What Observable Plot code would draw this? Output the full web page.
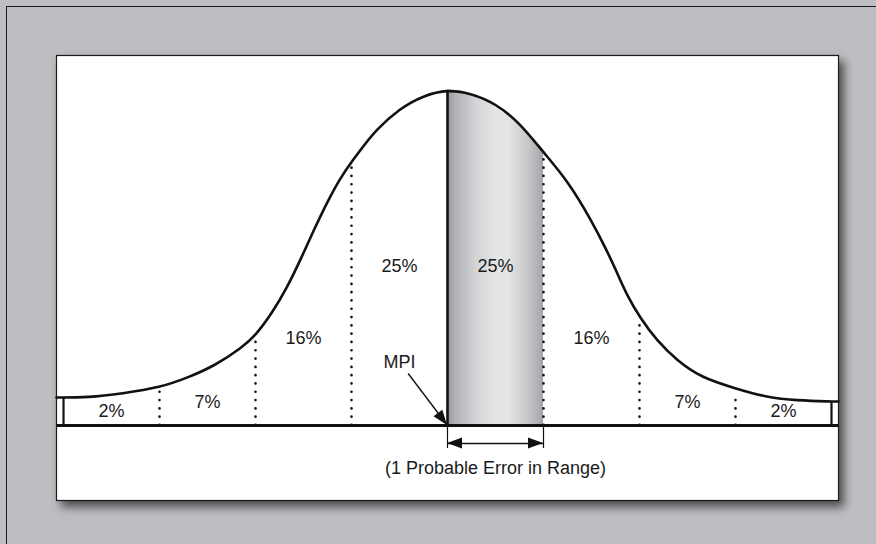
<!DOCTYPE html>
<html><head><meta charset="utf-8">
<script src="https://cdn.jsdelivr.net/npm/d3@7"></script>
<script src="https://cdn.jsdelivr.net/npm/@observablehq/plot@0.6"></script>
<style>
html,body{margin:0;padding:0;background:#bdbec2;width:876px;height:544px;overflow:hidden}
#edge{position:absolute;left:6px;top:6px;width:880px;height:548px;border-left:1.5px solid #1a1a1a;border-top:1.5px solid #1a1a1a}
#chart{position:absolute;left:0;top:0}
#chart svg [aria-label="frame"]{filter:drop-shadow(5px 6px 5px rgba(0,0,0,0.6))}
</style>
</head><body>
<div id="edge"></div>
<div id="chart"></div>
<script>
// Curve: x in probable errors (PE) from the MPI, height above the baseline
const curveX = [-4.073, -3.74, -3.39, -2.99, -2.70, -2.42, -2.14, -2.0, -1.83, -1.67, -1.53, -1.39, -1.25, -1.12, -0.99, -0.87, -0.75, -0.5, -0.25, 0,
                0.25, 0.5, 0.75, 1.0, 1.25, 1.5, 1.66, 1.77, 1.87, 2.01, 2.18, 2.39, 2.64, 3.0, 3.33, 3.64, 3.99, 4.073];
const curveH = [28, 28, 32, 38, 48, 60, 78, 90, 112, 138, 166, 196, 224, 247, 265, 280, 295, 317, 330, 336,
                332, 322, 303, 273, 245, 205, 175, 152, 130, 107, 85, 65, 48, 37, 28, 25, 24, 24];

// Zone dividers (dotted) and their heights
const dividerX = [-3, -2, -1, 1, 2, 3];
const dividerH = [35, 86, 262, 270, 103, 33];

// End boxes at ±4 PE
const endX = [-4, 4];
const endH = [28, 24];

// Zone percentage labels
const labelText = ["2%", "7%", "16%", "25%", "25%", "16%", "7%", "2%"];
const labelX = [-3.5, -2.5, -1.5, -0.5, 0.5, 1.5, 2.5, 3.5];
const labelH = [14, 23, 87, 159, 159, 87, 23, 14];

// Annotations
const mpiText = "MPI";
const mpiLabel = {x: -0.5, h: 63.5};
const mpiArrow = {x1: -0.41, h1: 52, x2: 0, h2: 0};
const mpiLineTop = 334;
const rangeText = "(1 Probable Error in Range)";
const rangeLabel = {x: 0.5, h: -43};
const rangeArrowH = -18;
const rangeTickH = -23;
const shadedFrom = 0, shadedTo = 1;

const curve = curveX.map((x, i) => ({x, h: curveH[i]}));
const shaded = curve.filter(d => d.x >= shadedFrom && d.x <= shadedTo);
const dividers = dividerX.map((x, i) => ({x, h: dividerH[i]}));
const ends = endX.map((x, i) => ({x, h: endH[i]}));
const labels = labelText.map((t, i) => ({t, x: labelX[i], h: labelH[i]}));
const arrows = [
  {x1: mpiArrow.x1, h1: mpiArrow.h1, x2: mpiArrow.x2, h2: mpiArrow.h2, len: 15, w: 5.5},
  {x1: 0.5, h1: rangeArrowH, x2: shadedFrom, h2: rangeArrowH, len: 15, w: 5.5},
  {x1: 0.5, h1: rangeArrowH, x2: shadedTo, h2: rangeArrowH, len: 15, w: 5.5}
];

const NS = "http://www.w3.org/2000/svg";
function extras(index, scales) {
  const g = document.createElementNS(NS, "g");
  const defs = document.createElementNS(NS, "defs");
  const grad = document.createElementNS(NS, "linearGradient");
  grad.setAttribute("id", "peGrad");
  grad.setAttribute("x1", "0"); grad.setAttribute("x2", "1");
  grad.setAttribute("y1", "0"); grad.setAttribute("y2", "0");
  [[0, "#96979a"], [0.08, "#afb0b3"], [0.3, "#d3d4d6"], [0.52, "#e4e5e7"], [0.64, "#e3e4e6"], [0.85, "#c5c6c8"], [1, "#a4a5a8"]].forEach(([o, c]) => {
    const s = document.createElementNS(NS, "stop");
    s.setAttribute("offset", o); s.setAttribute("stop-color", c);
    grad.appendChild(s);
  });
  defs.appendChild(grad);
  g.appendChild(defs);
  for (const a of arrows) {
    const X1 = scales.x(a.x1), Y1 = scales.y(a.h1), X2 = scales.x(a.x2), Y2 = scales.y(a.h2);
    const ang = Math.atan2(Y2 - Y1, X2 - X1);
    const cx = Math.cos(ang), cy = Math.sin(ang);
    const bx = X2 - cx * a.len, by = Y2 - cy * a.len;
    const p = document.createElementNS(NS, "path");
    p.setAttribute("d", `M${X2},${Y2}L${bx - cy * a.w},${by + cx * a.w}L${bx + cy * a.w},${by - cx * a.w}Z`);
    p.setAttribute("fill", "#111");
    g.appendChild(p);
  }
  return g;
}

const font = "Liberation Sans, Arial, Helvetica, sans-serif";
const plot = Plot.plot({
  width: 876,
  height: 544,
  marginLeft: 56,
  marginRight: 38,
  marginTop: 55,
  marginBottom: 44,
  style: {background: "transparent", overflow: "visible"},
  x: {domain: [-4.073, 4.073], axis: null},
  y: {domain: [-75, 370], axis: null},
  marks: [
    Plot.frame({fill: "white", stroke: "#1a1a1a", strokeWidth: 1.2}),
    extras,
    Plot.areaY(shaded, {x: "x", y: "h", fill: "url(#peGrad)", curve: "basis"}),
    Plot.ruleX(dividers, {x: "x", y1: 0, y2: "h", stroke: "#111", strokeWidth: 2.6, strokeDasharray: "0.1 8.2", strokeLinecap: "round"}),
    Plot.ruleX(ends, {x: "x", y1: 0, y2: "h", stroke: "#111", strokeWidth: 2.2}),
    Plot.ruleX([shadedFrom], {x: d => d, y1: 0, y2: mpiLineTop, stroke: "#111", strokeWidth: 2.6}),
    Plot.line(curve, {x: "x", y: "h", curve: "basis", stroke: "#111", strokeWidth: 2.6}),
    Plot.ruleY([0], {stroke: "#111", strokeWidth: 3}),
    Plot.ruleX([shadedFrom, shadedTo], {x: d => d, y1: rangeTickH, y2: 0, stroke: "#111", strokeWidth: 1.2}),
    Plot.link([{a: shadedFrom, b: shadedTo}], {x1: "a", x2: "b", y1: rangeArrowH, y2: rangeArrowH, stroke: "#111", strokeWidth: 1.6}),
    Plot.link([mpiArrow], {x1: "x1", y1: "h1", x2: "x2", y2: "h2", stroke: "#111", strokeWidth: 1.4}),
    Plot.text(labels, {x: "x", y: "h", text: "t", fontSize: 18, fontFamily: font, fill: "#1a1a1a"}),
    Plot.text([mpiLabel], {x: "x", y: "h", text: () => mpiText, fontSize: 18, fontFamily: font, fill: "#1a1a1a"}),
    Plot.text([rangeLabel], {x: "x", y: "h", text: () => rangeText, fontSize: 18, fontFamily: font, fill: "#1a1a1a"})
  ]
});
document.getElementById("chart").appendChild(plot);
</script>
</body></html>
